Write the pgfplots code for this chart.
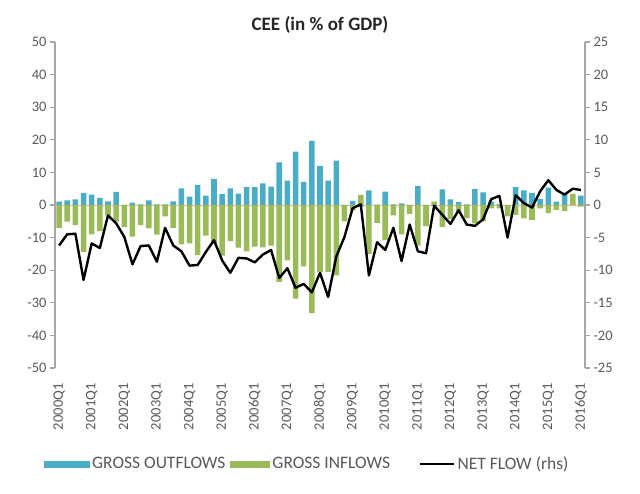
\documentclass[border=0pt]{standalone}
\usepackage{fontspec}
\setmainfont{Carlito}
\usepackage{pgfplots}
\usepackage{pgfplotstable}
\pgfplotsset{compat=1.18}
\definecolor{outc}{HTML}{4BACC6}
\definecolor{inc}{HTML}{9BBB59}
\definecolor{axc}{HTML}{A6A6A6}
\definecolor{txc}{HTML}{595959}
\definecolor{zc}{HTML}{F4B183}

\pgfplotstableread{
i out in net
0 1.0 -7.0 -6.2
1 1.4 -5.1 -4.5
2 1.7 -6.2 -4.4
3 3.7 -14.4 -11.5
4 3.2 -9.0 -5.9
5 2.2 -8.0 -6.6
6 1.1 -3.2 -1.6
7 4.0 -5.1 -2.8
8 -0.2 -6.7 -4.9
9 0.7 -9.7 -9.1
10 0.2 -6.2 -6.3
11 1.4 -7.2 -6.2
12 0.2 -9.1 -8.7
13 0.2 -3.5 -3.5
14 1.1 -7.0 -6.2
15 5.1 -12.1 -7.1
16 2.6 -11.8 -9.3
17 6.2 -15.4 -9.2
18 2.9 -9.4 -7.2
19 8.0 -11.7 -5.4
20 3.3 -15.5 -8.5
21 5.1 -11.1 -10.4
22 3.5 -13.1 -8.1
23 5.5 -14.2 -8.2
24 5.5 -12.8 -8.8
25 6.6 -13.0 -7.6
26 5.6 -12.5 -6.9
27 13.1 -23.6 -11.2
28 7.5 -17.0 -9.7
29 16.4 -28.7 -12.7
30 7.1 -18.8 -12.1
31 19.7 -33.2 -13.4
32 12.0 -20.5 -10.4
33 7.5 -20.5 -14.1
34 13.6 -21.6 -7.9
35 -0.3 -5.0 -4.9
36 1.2 -1.7 -0.5
37 -0.5 3.1 0.1
38 4.5 -15.0 -10.8
39 0.1 -5.5 -5.7
40 4.1 -10.8 -6.9
41 0.2 -3.2 -3.5
42 0.5 -9.0 -8.6
43 -0.2 -2.7 -3.0
44 5.9 -12.5 -7.1
45 -0.8 -6.5 -7.4
46 -0.3 1.0 -0.1
47 4.8 -6.7 -1.5
48 1.7 -4.3 -2.9
49 0.9 -2.5 -0.8
50 0.2 -4.0 -3.0
51 4.9 -5.6 -3.2
52 3.9 -5.0 -2.2
53 1.0 -1.0 0.9
54 0.3 -1.0 1.4
55 -0.8 -3.5 -5.0
56 5.5 -3.0 1.5
57 4.5 -4.1 0.3
58 3.7 -4.6 -0.4
59 1.8 -1.0 2.1
60 5.3 -2.5 3.8
61 1.0 -1.5 2.3
62 3.3 -1.8 1.6
63 0.3 3.4 2.5
64 2.9 -0.5 2.3
}\data

\newcommand{\tfont}{\fontsize{14.5}{16}\selectfont}
\newcommand{\lfont}{\fontsize{17.5}{19}\selectfont}

\begin{document}
\begin{tikzpicture}[x=1pt,y=1pt]
\useasboundingbox (0,0) rectangle (640,493);
\begin{axis}[
  at={(55pt,125pt)}, anchor=south west,
  scale only axis, width=530pt, height=326pt,
  xmin=-0.5, xmax=64.5, ymin=-50, ymax=50,
  axis y line*=left, axis x line*=bottom,
  x axis line style={draw=none},
  xtick={0,4,...,64},
  xticklabels={2000Q1,2001Q1,2002Q1,2003Q1,2004Q1,2005Q1,2006Q1,2007Q1,2008Q1,2009Q1,2010Q1,2011Q1,2012Q1,2013Q1,2014Q1,2015Q1,2016Q1},
  xtick style={draw=none},
  xticklabel style={rotate=90, anchor=east, font=\tfont, text=txc, xshift=-7pt},
  ytick={-50,-40,...,50},
  yticklabels={-50,-40,-30,-20,-10,0,10,20,30,40,50},
  yticklabel style={font=\tfont, text=txc},
  y axis line style={draw=axc, line width=1.2pt},
  ytick style={draw=axc, line width=1.2pt},
  tick align=outside, major tick length=5pt,
  title={CEE (in \% of GDP)},
  title style={font=\bfseries\fontsize{19}{21}\selectfont, text=black!85, at={(0.5,1)}, anchor=south, yshift=-1pt},
  legend columns=3,
  legend style={draw=none, at={(0.0,-0.2945)}, anchor=west, xshift=-14pt, font=\lfont, text=txc,
    /tikz/column 2/.style={column sep=3pt},
    /tikz/column 4/.style={column sep=27pt}},
]
\addplot[draw=zc, line width=0.6pt, forget plot] coordinates {(-0.5,0) (64.5,0)};
\addplot[ybar, bar width=0.68, bar shift=0pt, fill=outc, draw=none,
  legend image code/.code={\fill[outc] (0pt,-3.5pt) rectangle (46pt,3.5pt);}]
  table[x=i,y=out]{\data};
\addlegendentry{GROSS OUTFLOWS}
\addplot[ybar, bar width=0.68, bar shift=0pt, fill=inc, draw=none,
  legend image code/.code={\fill[inc] (0pt,-3.5pt) rectangle (40pt,3.5pt);}]
  table[x=i,y=in]{\data};
\addlegendentry{GROSS INFLOWS}
\addlegendimage{black, line width=2.4pt, legend image code/.code={\draw[black, line width=2.4pt] (0pt,0pt) -- (34pt,0pt);}}
\addlegendentry{NET FLOW (rhs)}
\end{axis}
\begin{axis}[
  at={(55pt,125pt)}, anchor=south west,
  scale only axis, width=530pt, height=326pt,
  xmin=-0.5, xmax=64.5, ymin=-25, ymax=25,
  axis y line*=right, axis x line=none,
  ytick={-25,-20,...,25},
  yticklabels={-25,-20,-15,-10,-5,0,5,10,15,20,25},
  yticklabel style={font=\tfont, text=txc},
  y axis line style={draw=axc, line width=1.2pt},
  ytick style={draw=axc, line width=1.2pt},
  tick align=outside, major tick length=5pt,
]
\addplot[black, line width=2.4pt, line join=round] table[x=i,y=net]{\data};
\end{axis}
\end{tikzpicture}
\end{document}
